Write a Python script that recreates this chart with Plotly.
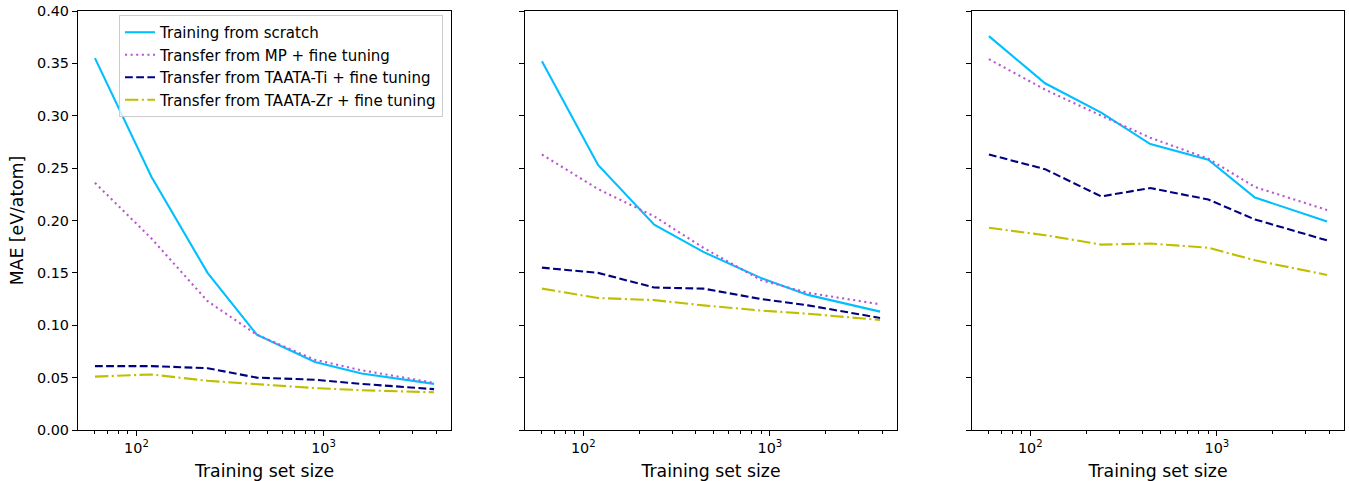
import numpy as np
import plotly.graph_objects as go

# ---- data ----
train_sizes = [60, 120, 240, 440, 900, 1600, 3900]

series_names = [
    "Training from scratch",
    "Transfer from MP + fine tuning",
    "Transfer from TAATA-Ti + fine tuning",
    "Transfer from TAATA-Zr + fine tuning",
]

# Panel 1
p1_scratch = [0.355, 0.242, 0.150, 0.091, 0.065, 0.054, 0.044]
p1_mp      = [0.236, 0.183, 0.123, 0.091, 0.067, 0.057, 0.045]
p1_ti      = [0.061, 0.061, 0.059, 0.050, 0.048, 0.044, 0.039]
p1_zr      = [0.051, 0.053, 0.047, 0.044, 0.040, 0.038, 0.036]

# Panel 2
p2_scratch = [0.352, 0.253, 0.196, 0.170, 0.145, 0.129, 0.113]
p2_mp      = [0.263, 0.230, 0.204, 0.174, 0.143, 0.131, 0.120]
p2_ti      = [0.155, 0.150, 0.136, 0.135, 0.125, 0.119, 0.107]
p2_zr      = [0.135, 0.126, 0.124, 0.119, 0.114, 0.111, 0.105]

# Panel 3
p3_scratch = [0.376, 0.331, 0.303, 0.273, 0.258, 0.222, 0.199]
p3_mp      = [0.354, 0.325, 0.300, 0.279, 0.259, 0.232, 0.210]
p3_ti      = [0.263, 0.249, 0.223, 0.231, 0.220, 0.201, 0.181]
p3_zr      = [0.193, 0.186, 0.177, 0.178, 0.174, 0.162, 0.148]

panels = [
    [p1_scratch, p1_mp, p1_ti, p1_zr],
    [p2_scratch, p2_mp, p2_ti, p2_zr],
    [p3_scratch, p3_mp, p3_ti, p3_zr],
]

y_ticks = [0.00, 0.05, 0.10, 0.15, 0.20, 0.25, 0.30, 0.35, 0.40]
x_major = [100, 1000]
x_major_text = ["10<sup>2</sup>", "10<sup>3</sup>"]
x_minor = [60, 70, 80, 90, 200, 300, 400, 500, 600, 700, 800, 900, 2000, 3000, 4000]

# ---- styles ----
lw = 2.1
styles = [
    dict(color="#00BFFF", width=lw, dash="solid"),
    dict(color="#BA55D3", width=lw, dash="2.1px,3.5px"),
    dict(color="#000080", width=lw, dash="7.8px,3.4px"),
    dict(color="#BFBF00", width=lw, dash="13.4px,3.4px,2.1px,3.4px"),
]

W, H = 1349, 481


def fx(px):
    return px / W


def fy(py):
    return 1 - py / H


x_domains = [(fx(78), fx(451)), (fx(525), fx(897)), (fx(972), fx(1344))]
y_domain = (fy(430), fy(11))

lx = np.log10(train_sizes)
span = lx.max() - lx.min()
x_range = [lx.min() - 0.05 * span, lx.max() + 0.05 * span]

font_family = "DejaVu Sans"
fig = go.Figure()

for pi, pdata in enumerate(panels):
    xa = "x" if pi == 0 else f"x{pi + 1}"
    ya = "y" if pi == 0 else f"y{pi + 1}"
    for si, vals in enumerate(pdata):
        fig.add_trace(go.Scatter(
            x=train_sizes, y=vals, mode="lines",
            line=styles[si], name=series_names[si],
            showlegend=(pi == 0), xaxis=xa, yaxis=ya,
        ))

    axkey = "xaxis" if pi == 0 else f"xaxis{pi + 1}"
    aykey = "yaxis" if pi == 0 else f"yaxis{pi + 1}"
    fig.update_layout(**{
        axkey: dict(
            type="log", domain=list(x_domains[pi]), range=x_range,
            anchor=ya, showline=True, mirror=True, linecolor="black",
            linewidth=1.15, showgrid=False, zeroline=False, automargin=False,
            tickmode="array", tickvals=x_major, ticktext=x_major_text,
            ticks="outside", ticklen=5, tickwidth=1.15, tickcolor="black",
            ticklabeloverflow="allow",
            minor=dict(tickmode="array", tickvals=x_minor, ticks="outside",
                       ticklen=3, tickwidth=0.9, tickcolor="black", showgrid=False),
            tickfont=dict(size=14.4, color="black", family=font_family),
            title=dict(text="Training set size", standoff=10,
                       font=dict(size=17.3, color="black", family=font_family)),
        ),
        aykey: dict(
            domain=list(y_domain), range=[0, 0.40], anchor=xa,
            showline=True, mirror=True, linecolor="black", linewidth=1.15,
            showgrid=False, zeroline=False, automargin=False,
            tickmode="array", tickvals=y_ticks, tickformat=".2f",
            ticks="outside", ticklen=5, tickwidth=1.15, tickcolor="black",
            ticklabeloverflow="allow",
            showticklabels=(pi == 0),
            tickfont=dict(size=14.4, color="black", family=font_family),
            title=dict(text="MAE [eV/atom]" if pi == 0 else "", standoff=8,
                       font=dict(size=17.3, color="black", family=font_family)),
        ),
    })

fig.update_layout(
    width=W, height=H,
    margin=dict(l=0, r=0, t=0, b=0, autoexpand=False),
    paper_bgcolor="white", plot_bgcolor="white",
    font=dict(family=font_family, color="black"),
    legend=dict(
        x=fx(443), y=fy(15), xanchor="right", yanchor="top",
        bgcolor="rgba(255,255,255,0.8)", bordercolor="#CCCCCC", borderwidth=1,
        font=dict(size=15, color="black", family=font_family),
        tracegroupgap=0, itemwidth=30,
    ),
    showlegend=True,
)

fig.write_html(
    "out.html",
    config={"displayModeBar": False},
    post_script="document.body.style.margin='0';document.body.style.overflow='hidden';",
)
